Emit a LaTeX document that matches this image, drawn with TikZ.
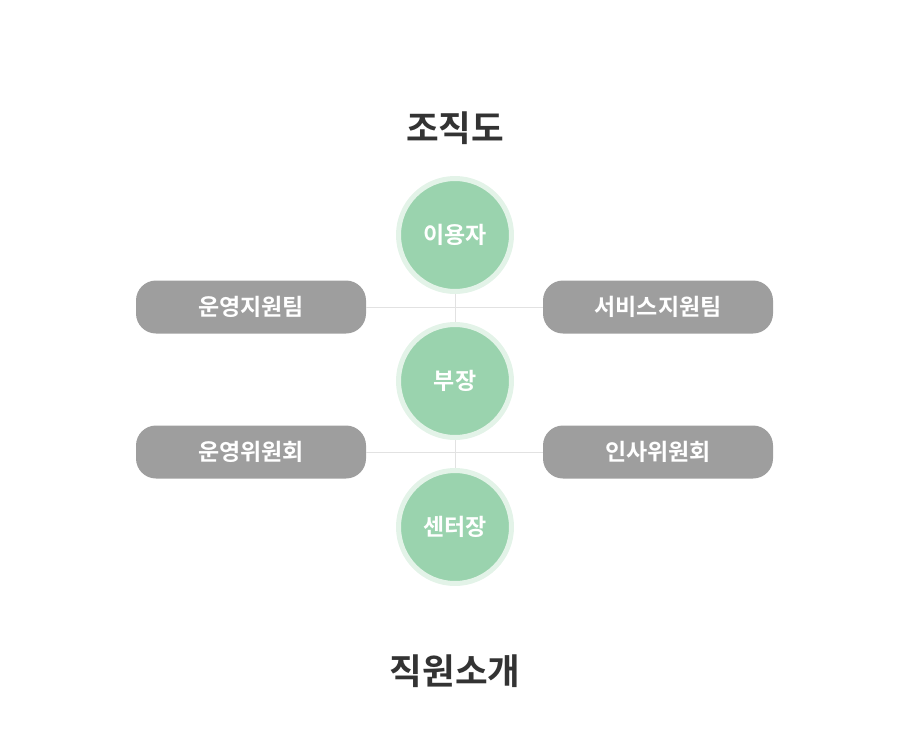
\documentclass[tikz,border=0pt]{standalone}
\usepackage{fontspec}
\setmainfont{Noto Sans CJK KR}[BoldFont={* Bold}]
\usetikzlibrary{calc}
\definecolor{teamgray}{HTML}{9E9E9E}
\definecolor{circgreen}{HTML}{9AD3AE}
\definecolor{ringgreen}{HTML}{E3F3E8}
\definecolor{linegray}{HTML}{E2E2E2}
\definecolor{titlegray}{HTML}{333333}

\begin{document}
\begin{tikzpicture}[x=1pt,y=-1pt,
  person/.style={circle,fill=circgreen,draw=ringgreen,line width=5pt,minimum size=113pt,inner sep=0pt,text=white,font=\fontsize{23}{27}\selectfont\bfseries},
  team/.style={rectangle,fill=teamgray,rounded corners=20pt,minimum width=230pt,minimum height=53pt,text=white,font=\fontsize{23}{27}\selectfont\bfseries},
  link/.style={draw=linegray,line width=1pt}]
\useasboundingbox (0,0) rectangle (910,731);

\draw node [font=\fontsize{35.5}{40}\selectfont\bfseries,text=titlegray] at (455,128) (orgtitle){조직도};

\draw node [person] at (455,235) (user){이용자};
\draw node [person] at ($ (user) + (0,146)$) (boss){부장};
\draw node [person] at ($ (boss) + (0,146)$) (head){센터장};

\draw node [team] at (251,307) (opsupport){운영지원팀};
\draw node [team] at (658,307) (svcsupport){서비스지원팀};
\draw node [team] at ($ (opsupport) + (0,145)$) (opcommittee){운영위원회};
\draw node [team] at ($ (svcsupport) + (0,145)$) (hrcommittee){인사위원회};

\draw[link] (opsupport.east) -- (svcsupport.west);
\draw[link] (user.south) -- (boss.north);
\draw[link] (opcommittee.east) -- (hrcommittee.west);
\draw[link] (boss.south) -- (head.north);

\draw node [font=\fontsize{35.5}{40}\selectfont\bfseries,text=titlegray] at (455,671) (stafftitle){직원소개};

\end{tikzpicture}
\end{document}
